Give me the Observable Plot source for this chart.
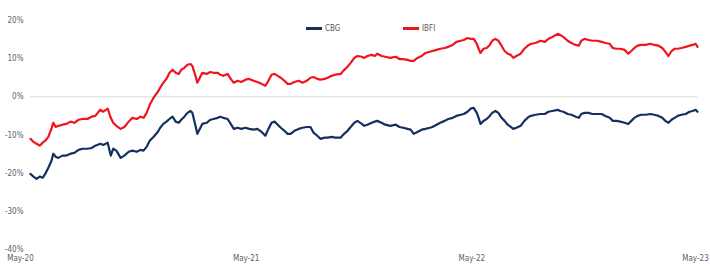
<!DOCTYPE html>
<html>
<head>
<meta charset="utf-8">
<script src="https://cdn.jsdelivr.net/npm/d3@7"></script>
<script src="https://cdn.jsdelivr.net/npm/@observablehq/plot@0.6"></script>
<style>
  html, body { margin: 0; padding: 0; background: #fff; }
  #wrap { position: relative; width: 710px; height: 267px; font-family: "Liberation Sans Narrow", "DejaVu Sans Condensed", "Liberation Sans", sans-serif; }
  #legend { position: absolute; top: 24px; left: 0; width: 710px; height: 12px; font-size: 8px; color: #595959; }
  .item { position: absolute; display: flex; align-items: center; gap: 3px; }
  .sw { width: 16px; height: 2.5px; display: inline-block; }
</style>
</head>
<body>
<div id="wrap"></div>
<script>
// ---- data (values in %) ----
const startDate = "2020-05-01";
const dayOffsets = [
  16,21,26,31,36,40,45,50,53,57,
  61,68,74,81,87,94,100,108,115,121,
  129,134,141,146,150,155,162,168,175,181,
  188,194,199,204,209,215,222,226,231,236,
  241,246,251,256,260,265,270,275,278,283,
  286,290,294,301,307,312,319,323,328,335,
  340,345,351,357,364,370,377,383,390,396,
  401,406,411,416,421,427,432,437,443,450,
  456,463,469,474,480,485,492,497,503,509,
  518,522,529,534,540,545,552,556,561,568,
  573,577,584,590,598,607,613,619,626,631,
  636,642,649,655,662,666,673,679,686,692,
  699,705,712,717,723,728,733,738,741,744,
  749,754,759,763,768,773,778,783,788,793,
  797,802,809,815,822,826,833,841,848,854,
  860,869,873,878,885,891,898,903,907,912,
  919,925,933,940,946,953,958,964,970,977,
  983,988,993,998,1004,1011,1019,1025,1032,1038,
  1043,1048,1053,1058,1063,1069,1076,1082,1087,1092,
  1095
];
const ibfi = [
  -11.0,-11.8,-12.3,-12.8,-12.0,-11.5,-10.5,-8.4,-6.8,-7.9,
  -7.6,-7.3,-7.1,-6.5,-6.8,-6.0,-5.8,-5.8,-5.2,-5.0,
  -3.4,-3.9,-3.1,-5.5,-6.8,-7.6,-8.4,-7.9,-6.5,-5.5,
  -5.8,-5.2,-5.5,-4.2,-2.1,-0.3,1.3,2.4,3.7,4.7,
  6.3,7.1,6.3,6.0,7.1,7.6,8.4,8.6,8.1,5.5,
  3.7,5.0,6.3,6.0,6.5,6.3,6.3,5.8,5.5,6.0,
  4.7,3.7,4.2,3.9,4.5,4.7,4.2,3.9,3.4,2.9,
  4.2,5.8,6.0,5.5,5.0,4.2,3.4,3.4,3.9,4.2,
  3.7,4.2,5.0,5.2,4.7,4.5,4.7,5.0,5.5,5.8,
  6.0,6.8,7.9,8.9,10.2,10.7,10.5,10.2,10.7,11.0,
  10.7,11.3,10.7,10.5,10.2,10.5,9.9,9.9,9.7,9.4,
  9.4,10.2,10.7,11.5,11.8,12.0,12.3,12.6,12.8,13.1,
  13.6,14.4,14.7,14.9,15.4,15.2,15.2,13.9,12.6,11.5,
  12.6,12.8,13.6,14.7,15.2,14.7,13.4,12.0,11.3,11.0,
  10.2,10.7,11.3,12.6,13.6,13.9,14.1,14.7,14.4,15.2,
  15.7,16.5,16.2,15.7,14.7,14.1,13.6,13.4,14.7,15.2,
  14.9,14.7,14.7,14.4,14.1,13.9,12.8,12.6,12.6,12.3,
  11.3,12.0,12.8,13.4,13.6,13.6,13.9,13.6,13.4,12.8,
  11.8,10.7,12.0,12.6,12.6,12.8,13.1,13.4,13.6,13.9,
  13.1
];
const cbg = [
  -20.2,-20.9,-21.5,-20.9,-21.2,-20.2,-18.6,-16.8,-14.9,-15.7,
  -16.0,-15.4,-15.4,-14.9,-14.7,-13.9,-13.6,-13.6,-13.4,-12.8,
  -12.3,-12.6,-12.0,-15.4,-13.6,-14.1,-16.0,-15.4,-14.4,-14.1,
  -14.4,-13.9,-14.1,-13.1,-11.5,-10.5,-9.2,-8.1,-7.1,-6.5,
  -5.8,-5.2,-6.5,-6.8,-6.0,-5.2,-4.2,-3.7,-4.2,-7.6,
  -9.7,-8.4,-7.1,-6.8,-6.0,-5.8,-5.5,-5.2,-5.5,-5.8,
  -7.1,-8.4,-8.1,-8.4,-8.1,-8.4,-8.6,-8.4,-9.2,-10.2,
  -8.4,-6.8,-6.5,-7.3,-8.1,-8.9,-9.7,-9.7,-8.9,-8.4,
  -8.1,-7.9,-7.9,-9.4,-10.2,-11.0,-10.7,-10.7,-10.5,-10.7,
  -10.7,-9.9,-8.9,-7.9,-6.8,-6.3,-7.1,-7.6,-7.3,-6.8,
  -6.5,-6.3,-6.8,-7.3,-7.6,-7.3,-7.9,-8.1,-8.4,-8.6,
  -9.7,-9.2,-8.6,-8.4,-8.1,-7.9,-7.3,-6.8,-6.3,-5.8,
  -5.5,-5.0,-4.7,-4.5,-3.9,-3.1,-2.9,-4.2,-5.5,-7.1,
  -6.3,-5.8,-5.0,-4.2,-3.7,-4.2,-5.5,-6.3,-7.3,-7.9,
  -8.4,-8.1,-7.6,-6.3,-5.2,-5.0,-4.7,-4.5,-4.5,-3.9,
  -3.7,-3.4,-3.7,-3.9,-4.5,-4.7,-5.2,-5.5,-4.5,-4.2,
  -4.2,-4.5,-4.5,-4.5,-5.0,-5.5,-6.3,-6.3,-6.5,-6.8,
  -7.1,-6.3,-5.5,-5.0,-4.7,-4.7,-4.5,-4.7,-5.0,-5.5,
  -6.3,-6.8,-6.0,-5.5,-5.0,-4.7,-4.5,-3.9,-3.7,-3.4,
  -3.9
];
const seriesNames = ["CBG", "IBFI"];
const seriesColors = ["#14305f", "#f0141e"];
const yTicks = [-40, -30, -20, -10, 0, 10, 20];
const xTickDates = ["2020-05-01", "2021-05-01", "2022-05-01", "2023-05-01"];
const xTickLabels = ["May-20", "May-21", "May-22", "May-23"];

// ---- build table ----
const t0 = new Date(startDate + "T00:00:00Z");
const dates = dayOffsets.map(d => d3.utcDay.offset(t0, d));
const rows = [];
dates.forEach((d, i) => {
  rows.push({date: d, value: cbg[i], series: seriesNames[0]});
  rows.push({date: d, value: ibfi[i], series: seriesNames[1]});
});
const xTicks = xTickDates.map(s => new Date(s + "T00:00:00Z"));
const labelFor = new Map(xTicks.map((d, i) => [+d, xTickLabels[i]]));
const fontStack = '"Liberation Sans Narrow", "DejaVu Sans Condensed", "Liberation Sans", sans-serif';

const chart = Plot.plot({
  width: 710,
  height: 267,
  marginLeft: 20,
  marginRight: 13,
  marginTop: 20,
  marginBottom: 18,
  style: {fontFamily: fontStack, fontSize: "8px", color: "#606060", background: "#fff"},
  x: {type: "utc", domain: [xTicks[0], xTicks[xTicks.length - 1]]},
  y: {domain: [yTicks[0], yTicks[yTicks.length - 1]]},
  color: {domain: seriesNames, range: seriesColors},
  marks: [
    Plot.ruleY([0], {x1: dates[0], x2: dates[dates.length - 1], stroke: "#d9d9d9", strokeWidth: 1}),
    Plot.axisY({ticks: yTicks, tickSize: 0, tickPadding: -3, tickFormat: d => `${d}%`, label: null}),
    Plot.axisX({ticks: xTicks.slice(0, -1), tickSize: 0, tickPadding: 6, tickFormat: d => labelFor.get(+d), label: null}),
    Plot.axisX({ticks: xTicks.slice(-1), tickSize: 0, tickPadding: 6, dx: -2, tickFormat: d => labelFor.get(+d), label: null}),
    Plot.lineY(rows, {x: "date", y: "value", z: "series", stroke: "series", strokeWidth: 2.2, curve: "linear"})
  ]
});

const wrap = document.getElementById("wrap");
wrap.appendChild(chart);
const legend = document.createElement("div");
legend.id = "legend";
const legendLeft = [306, 403];
seriesNames.forEach((n, i) => {
  const it = document.createElement("div");
  it.className = "item";
  it.style.left = legendLeft[i] + "px";
  const sw = document.createElement("span");
  sw.className = "sw";
  sw.style.background = seriesColors[i];
  const tx = document.createElement("span");
  tx.textContent = n;
  it.appendChild(sw);
  it.appendChild(tx);
  legend.appendChild(it);
});
wrap.appendChild(legend);
</script>
</body>
</html>
